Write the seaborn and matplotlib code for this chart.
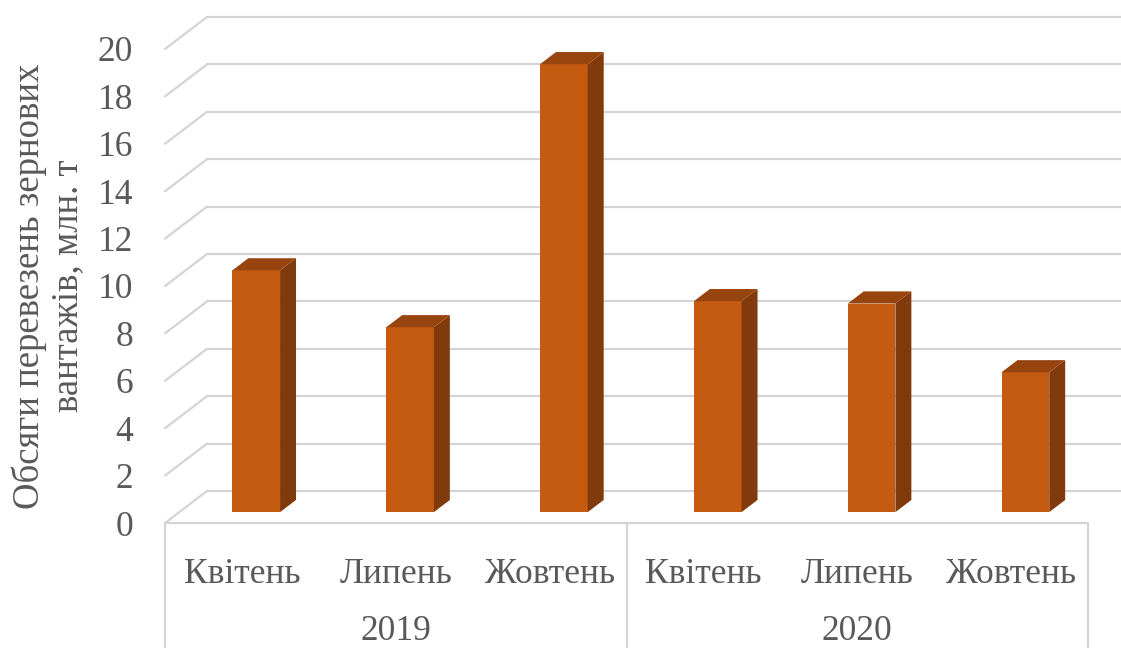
import numpy as np
import pandas as pd
import matplotlib
matplotlib.use("Agg")
import matplotlib.pyplot as plt
import seaborn as sns
from matplotlib.transforms import Affine2D, blended_transform_factory
from matplotlib.patches import Polygon

# ---- data ----
years = ["2019", "2020"]
months = ["Квітень", "Липень", "Жовтень"]
values_2019 = [10.2, 7.8, 18.9]
values_2020 = [8.9, 8.8, 5.9]
y_ticks = list(range(0, 21, 2))
y_label = "Обсяги перевезень зернових\nвантажів, млн. т"

df = pd.DataFrame({
    "year": np.repeat(years, len(months)),
    "month": months * len(years),
    "value": values_2019 + values_2020,
})
df["period"] = df["year"] + " " + df["month"]

# ---- style ----
sns.set_style("white")
plt.rcParams["font.family"] = ["Liberation Serif", "DejaVu Serif"]

FRONT = "#C55A11"
SIDE = "#813A0C"
TOP = "#98440F"
GRID = "#D4D4D4"
TEXT = "#595959"
FS = 25.5

fig = plt.figure(figsize=(11.21, 6.48), dpi=100)
fig.patch.set_facecolor("white")
ax = fig.add_axes([0.1472, 0.1929, 0.8234, 0.7315])

sns.barplot(data=df, x="period", y="value", order=list(df["period"]),
            color=FRONT, saturation=1, width=0.31, ax=ax, zorder=3,
            linewidth=0)
ax.set_xlim(-0.5, len(df) - 0.5)
ax.set_ylim(y_ticks[0], y_ticks[-1])

# oblique depth vector (data units) for the pseudo-3D box
DX, DY = 0.273, 1.35
D0, D1 = 0.34, 0.72


def depth(d):
    return Affine2D().translate(d * DX, d * DY) + ax.transData


x_left, x_right = ax.get_xlim()
# back wall gridlines and left wall diagonals
for v in y_ticks:
    ax.plot([x_left, x_right], [v, v], transform=depth(1), color=GRID,
            lw=1.6, clip_on=False, zorder=1, solid_capstyle="round")
    ax.plot([x_left, x_left + DX], [v, v + DY], color=GRID, lw=1.6,
            clip_on=False, zorder=1, solid_capstyle="round")
# floor front edge
ax.plot([x_left, x_right], [0, 0], color=GRID, lw=1.6, clip_on=False, zorder=1)

# category separators below the floor
trans_xfig = blended_transform_factory(ax.transData, fig.transFigure)
y_axes_bottom = ax.get_position().y0
for xb in [x_left, x_left + len(months), x_right]:
    ax.plot([xb, xb], [0, y_axes_bottom], transform=trans_xfig, color=GRID,
            lw=1.6, clip_on=False, zorder=1)

# pseudo-3D bars built from the seaborn bar patches
for p in list(ax.patches):
    x0, w, h = p.get_x(), p.get_width(), p.get_height()
    p.set_transform(depth(D0))
    p.set_clip_on(False)
    side = [(x0 + w + D0 * DX, D0 * DY), (x0 + w + D1 * DX, D1 * DY),
            (x0 + w + D1 * DX, h + D1 * DY), (x0 + w + D0 * DX, h + D0 * DY)]
    top = [(x0 + D0 * DX, h + D0 * DY), (x0 + w + D0 * DX, h + D0 * DY),
           (x0 + w + D1 * DX, h + D1 * DY), (x0 + D1 * DX, h + D1 * DY)]
    ax.add_patch(Polygon(side, closed=True, facecolor=SIDE, edgecolor="none",
                         zorder=3, clip_on=False))
    ax.add_patch(Polygon(top, closed=True, facecolor=TOP, edgecolor="none",
                         zorder=3, clip_on=False))

# ticks and labels
ax.set_xticks(range(len(df)))
ax.set_xticklabels(df["month"])
ax.set_yticks(y_ticks)
ax.set_yticklabels([str(t) for t in y_ticks])
ax.tick_params(axis="x", length=0, pad=25, labelsize=FS, labelcolor=TEXT)
ax.tick_params(axis="y", length=0, pad=23, labelsize=FS, labelcolor=TEXT)
ax.set_xlabel("")
ax.set_ylabel(y_label, fontsize=26.5, color=TEXT, labelpad=9, linespacing=1.15)

for yr in years:
    xc = np.mean(np.where(df["year"] == yr)[0])
    ax.text(xc, 0.026, yr, transform=trans_xfig, ha="center", va="center",
            fontsize=FS, color=TEXT)

for s in ax.spines.values():
    s.set_visible(False)
ax.grid(False)
ax.set_facecolor("none")

fig.savefig("out.png", dpi=100, facecolor="white")
